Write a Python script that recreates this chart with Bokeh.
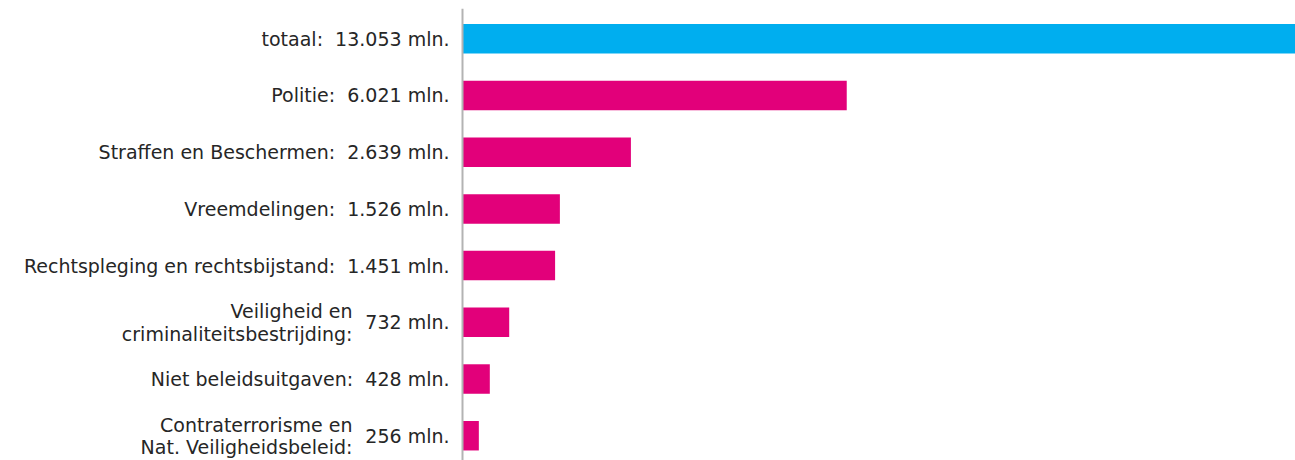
from bokeh.plotting import figure
from bokeh.models import ColumnDataSource, Span, Range1d
from bokeh.core.properties import value
from bokeh.embed import file_html
from bokeh.resources import INLINE

categories = [
    "totaal",
    "Politie",
    "Straffen en Beschermen",
    "Vreemdelingen",
    "Rechtspleging en rechtsbijstand",
    "Veiligheid en\ncriminaliteitsbestrijding",
    "Niet beleidsuitgaven",
    "Contraterrorisme en\nNat. Veiligheidsbeleid",
]
values = [13053, 6021, 2639, 1526, 1451, 732, 428, 256]
bar_colors = ["#00AEEF"] + ["#E2007A"] * 7

FONT = "DejaVu Sans"
FSIZE = "19px"
TXT = "#262626"

W, H = 1295, 460
LEFT_PX = 462  # pixel position of the baseline (x = 0)

def fmt(v):
    return f"{v:,}".replace(",", ".")

xmax = max(values)
xmin = -LEFT_PX * xmax / (W - LEFT_PX)

idx = list(range(len(categories)))
src = ColumnDataSource(dict(y=idx, v=values, c=bar_colors))

p = figure(width=W, height=H, output_backend="svg", toolbar_location=None,
           x_range=Range1d(xmin, xmax), y_range=Range1d(7.437, -0.534),
           min_border_left=0, min_border_right=0, min_border_top=8, min_border_bottom=0)
p.xaxis.visible = False
p.yaxis.visible = False
p.xgrid.visible = False
p.ygrid.visible = False
p.outline_line_color = None
p.background_fill_color = "white"
p.border_fill_color = "white"

p.hbar(y="y", right="v", left=0, height=0.52, fill_color="c", line_color=None, source=src)
p.add_layout(Span(location=0, dimension="height", line_color="#b3b3b3", line_width=2))

single = dict(x=[], y=[], t=[])
vals2 = dict(x=[], y=[], t=[])
line1 = dict(x=[], y=[], t=[])
line2 = dict(x=[], y=[], t=[])
for i, (c, v) in enumerate(zip(categories, values)):
    if "\n" in c:
        a, b = c.split("\n")
        vals2["x"].append(0); vals2["y"].append(i); vals2["t"].append(f"{fmt(v)}\u00a0mln.")
        line1["x"].append(0); line1["y"].append(i); line1["t"].append(a)
        line2["x"].append(0); line2["y"].append(i); line2["t"].append(b + ":")
    else:
        single["x"].append(0); single["y"].append(i); single["t"].append(f"{c}:\u00a0\u00a0{fmt(v)}\u00a0mln.")

common = dict(x="x", y="y", text="t", text_align="right", text_baseline="middle",
              text_font=value(FONT), text_font_size=value(FSIZE), text_color=TXT)
p.text(source=ColumnDataSource(single), x_offset=-13, **common)
p.text(source=ColumnDataSource(vals2), x_offset=-13, **common)
p.text(source=ColumnDataSource(line1), x_offset=-110, y_offset=-11, **common)
p.text(source=ColumnDataSource(line2), x_offset=-110, y_offset=11.5, **common)

open("out.html", "w").write(file_html(p, INLINE))
